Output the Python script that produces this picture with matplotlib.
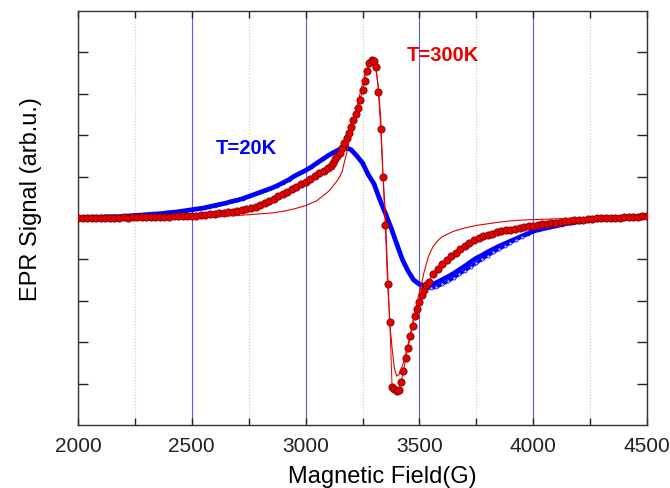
import matplotlib.pyplot as plt
from matplotlib.ticker import MultipleLocator

plt.rcParams['font.family'] = 'Liberation Sans'

# T=300K sweep: 20 G steps in the wings, 10 G across the resonance
field_300k = list(range(2000, 3100, 20)) + list(range(3100, 3550, 10)) + list(range(3560, 4520, 20))
signal_300k = [
    0.01, 0.00, 0.01, 0.00, 0.01, 0.01, 0.00, 0.01, 0.01, 0.01,
    0.02, 0.01, 0.02, 0.02, 0.02, 0.02, 0.03, 0.02, 0.03, 0.03,
    0.03, 0.04, 0.04, 0.04, 0.05, 0.05, 0.06, 0.07, 0.08, 0.09,
    0.10, 0.11, 0.12, 0.14, 0.15, 0.17, 0.19, 0.21, 0.24, 0.27,
    0.31, 0.36, 0.41, 0.46, 0.52, 0.58, 0.64, 0.70, 0.76, 0.82,
    0.88, 0.94, 1.01, 1.08, 1.14,
    # 3100 - 3540
    1.21, 1.26, 1.34, 1.42, 1.49, 1.58, 1.69, 1.81, 1.94, 2.06,
    2.19, 2.36, 2.50, 2.66, 2.85, 3.08, 3.32, 3.54, 3.75, 3.82,
    3.79, 3.64, 3.05, 2.15, 0.98, -0.17, -1.60, -2.50, -4.08, -4.14,
    -4.19, -4.16, -3.95, -3.70, -3.39, -3.13, -2.86, -2.60, -2.36, -2.20,
    -2.02, -1.86, -1.74, -1.63, -1.54,
    # 3560 - 4500
    -1.35, -1.24, -1.12, -1.01, -0.92, -0.84, -0.76, -0.68, -0.61, -0.54,
    -0.48, -0.44, -0.41, -0.38, -0.35, -0.32, -0.30, -0.28, -0.26, -0.24,
    -0.22, -0.20, -0.19, -0.17, -0.15, -0.14, -0.12, -0.11, -0.10, -0.08,
    -0.07, -0.06, -0.05, -0.04, -0.03, -0.02, -0.01, -0.01, 0.00, 0.00,
    0.01, 0.01, 0.02, 0.02, 0.03, 0.03, 0.04, 0.04,
]

# lineshape fit for the 300K spectrum
fit_field_300k = list(range(2000, 3100, 50)) + list(range(3100, 3600, 10)) + list(range(3600, 4550, 50))
fit_300k = [
    0.00, 0.00, 0.00, 0.01, 0.01, 0.01, 0.01, 0.02, 0.02, 0.02,
    0.03, 0.03, 0.04, 0.05, 0.06, 0.08, 0.10, 0.12, 0.16, 0.22,
    0.30, 0.42,
    # 3100 - 3590
    0.64, 0.70, 0.77, 0.84, 0.91, 1.00, 1.11, 1.34, 1.56, 1.82,
    2.07, 2.33, 2.57, 2.80, 3.02, 3.24, 3.46, 3.62, 3.73, 3.79,
    3.78, 3.55, 3.15, 2.40, 1.05, 0.12, -1.25, -2.55, -3.15, -3.62,
    -3.82, -3.78, -3.65, -3.50, -3.28, -3.06, -2.80, -2.54, -2.27, -2.02,
    -1.80, -1.57, -1.32, -1.12, -0.93, -0.80, -0.69, -0.62, -0.55, -0.50,
    # 3600 - 4500
    -0.45, -0.32, -0.24, -0.18, -0.14, -0.10, -0.07, -0.05, -0.04, -0.03,
    -0.02, -0.01, 0.00, 0.01, 0.01, 0.02, 0.03, 0.03, 0.04,
]

# T=20K sweep
field_20k = list(range(2000, 4525, 25))
signal_20k = [
    0.01, 0.01, 0.02, 0.02, 0.02, 0.03, 0.03, 0.03, 0.04, 0.05,
    0.06, 0.07, 0.08, 0.09, 0.10, 0.11, 0.13, 0.14, 0.16, 0.18,
    0.20, 0.22, 0.24, 0.27, 0.30, 0.33, 0.36, 0.40, 0.43, 0.47,
    0.52, 0.57, 0.62, 0.67, 0.72, 0.78, 0.85, 0.92, 1.01, 1.08,
    1.15, 1.23, 1.33, 1.42, 1.51, 1.59, 1.66, 1.70, 1.65, 1.50,
    1.33, 1.05, 0.83, 0.46, 0.12, -0.23, -0.62, -1.00, -1.28, -1.50,
    -1.60, -1.64, -1.62, -1.56, -1.49, -1.42, -1.34, -1.25, -1.16, -1.06,
    -0.97, -0.90, -0.82, -0.75, -0.68, -0.62, -0.56, -0.50, -0.44, -0.38,
    -0.32, -0.28, -0.25, -0.22, -0.19, -0.16, -0.13, -0.11, -0.09, -0.07,
    -0.06, -0.04, -0.03, -0.02, -0.01, 0.00, 0.01, 0.02, 0.02, 0.03,
    0.03,
]
# second pass over the high-field side at 20K
field_20k_back = list(range(3525, 3975, 25))
signal_20k_back = [
    -1.67, -1.70, -1.67, -1.60, -1.53, -1.45, -1.36, -1.27, -1.18, -1.09,
    -1.00, -0.91, -0.83, -0.75, -0.68, -0.60, -0.52, -0.45,
]

fig = plt.figure(figsize=(6.7, 4.89), dpi=100)
ax = fig.add_axes([0.1164, 0.1288, 0.8493, 0.8467])

ax.plot(field_20k, signal_20k, color='#0000ff', lw=3.4, solid_capstyle='round',
        solid_joinstyle='round', marker='s', ms=1.8, mec='#0000ff', zorder=3)
ax.plot(field_20k_back, signal_20k_back, color='#0000ff', lw=2.4, marker='o', ms=2.2,
        mfc='#c8c8ff', mec='#0000ff', mew=0.5, zorder=3)

ax.plot(field_300k, signal_300k, color='#e00000', lw=0.7, marker='o', ms=5.2,
        mfc='#e60000', mec='#7a0000', mew=0.6, zorder=4)
ax.plot(fit_field_300k, fit_300k, color='#e00000', lw=0.8, zorder=5)

ax.text(2741, 1.71, 'T=20K', color='#0000ff', fontsize=14.5, fontweight='bold',
        ha='center', va='center')
ax.text(3601, 3.95, 'T=300K', color='#ee0000', fontsize=14.5, fontweight='bold',
        ha='center', va='center')

ax.set_xlim(2000, 4500)
ax.set_ylim(-5, 5)
ax.xaxis.set_major_locator(MultipleLocator(500))
ax.xaxis.set_minor_locator(MultipleLocator(250))
ax.set_yticks(range(-4, 5))
ax.set_yticklabels([])

ax.xaxis.grid(True, which='major', color='#5a5ae6', lw=0.8)
ax.xaxis.grid(True, which='minor', color='#a8e0a8', lw=0.8, ls=':')
ax.set_axisbelow(True)

ax.tick_params(axis='x', which='both', direction='in', top=True, length=5,
               width=1, labelsize=15, pad=8, colors='#222222')
ax.tick_params(axis='y', direction='in', right=True, length=7, width=1, colors='#222222')
for sp in ax.spines.values():
    sp.set_color('#333333')
    sp.set_linewidth(1.0)

ax.set_xlabel('Magnetic Field(G)', fontsize=17)
ax.set_ylabel('EPR Signal (arb.u.)', fontsize=17)
ax.xaxis.set_label_coords(0.534, -0.097)
ax.yaxis.set_label_coords(-0.063, 0.547)

fig.savefig('out.png', dpi=100)
